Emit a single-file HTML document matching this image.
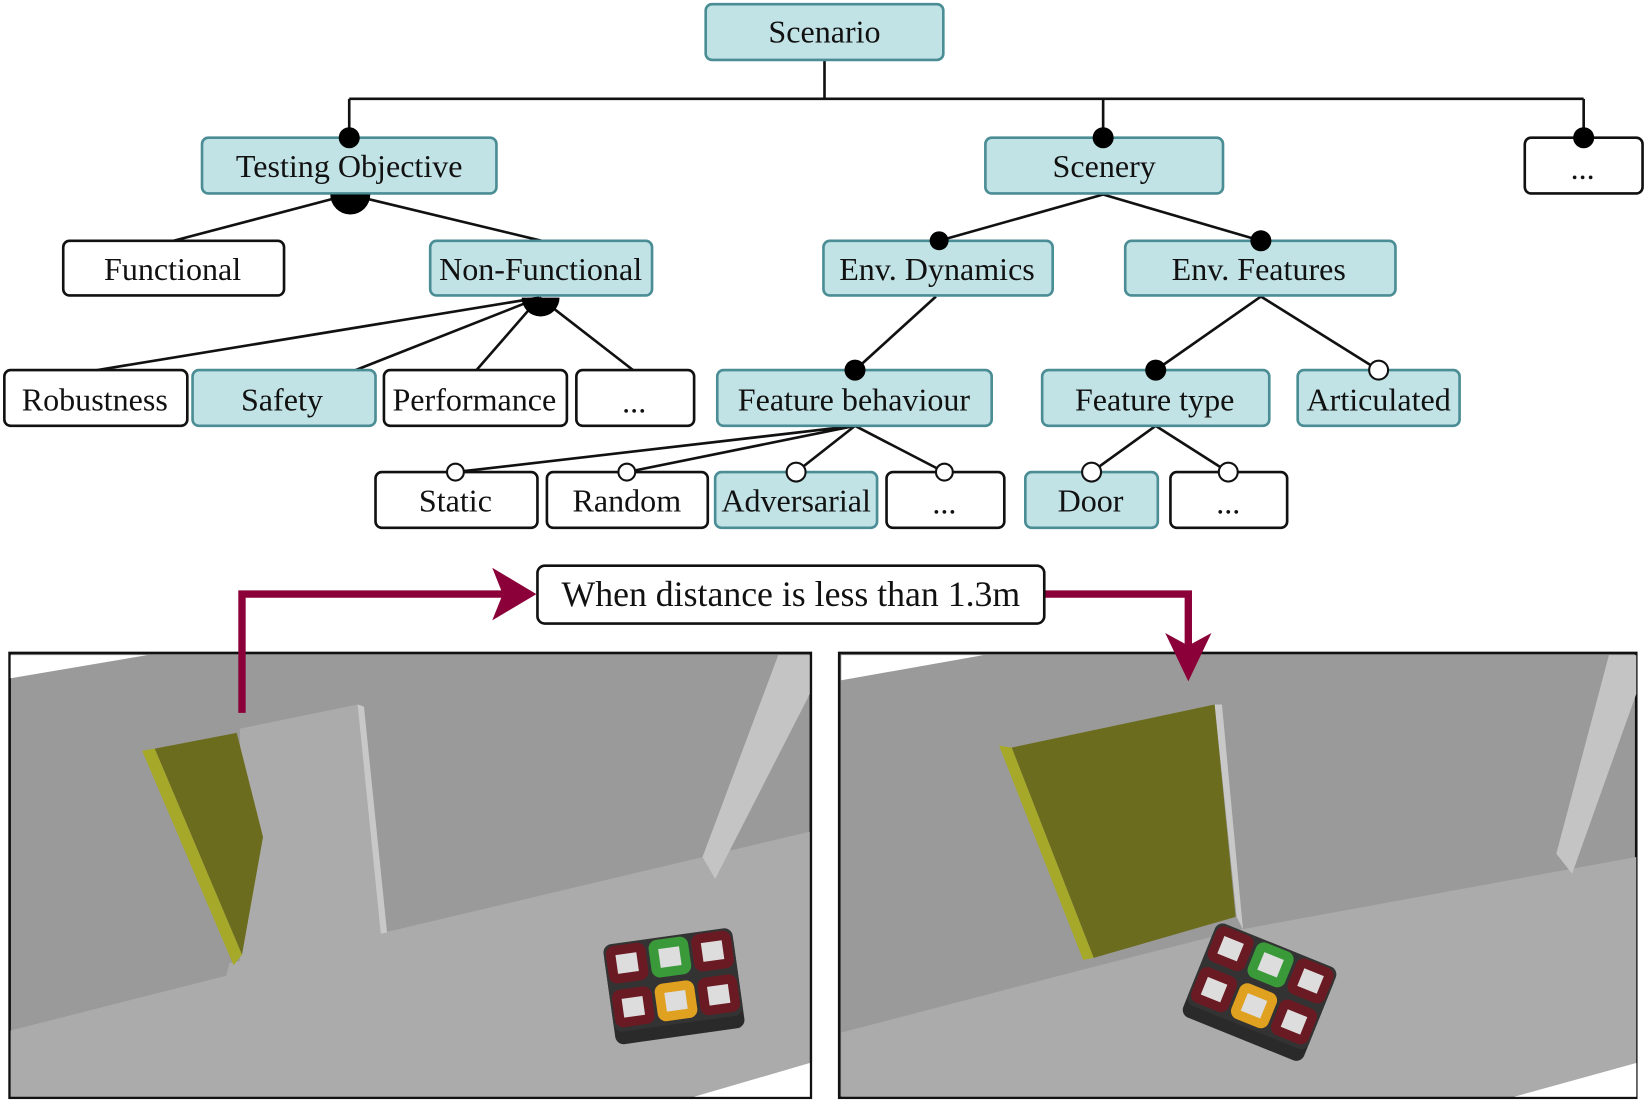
<!DOCTYPE html>
<html><head><meta charset="utf-8"><style>
html,body{margin:0;padding:0;background:#fff;}
svg{display:block;}
text{font-family:"Liberation Serif",serif;font-size:30.5px;fill:#111;text-anchor:middle;dominant-baseline:central;}
.t{fill:#c2e3e6;stroke:#4a8d94;stroke-width:2.5;}
.w{fill:#fff;stroke:#111;stroke-width:2.5;}
.l{stroke:#111;stroke-width:2.5;fill:none;}
.oc{fill:#fff;stroke:#111;stroke-width:2;}
</style></head><body>
<svg width="1649" height="1103" viewBox="0 0 1568 1049" xmlns="http://www.w3.org/2000/svg">
<path class="l" d="M784 57V94M332 94H1506M332 94V131M1049 94V131M1506 94V131"/>
<path class="l" d="M332 185L165 229M332 185L515 229"/>
<path class="l" d="M1049 185L893 229M1049 185L1199 229"/>
<path class="l" d="M513 283L92 352M513 283L338 352M513 283L453 352M513 283L602 352"/>
<path class="l" d="M890 282L813 352M1199 282L1099 352M1199 282L1311 352"/>
<path class="l" d="M813 405L433 449M813 405L596 449M813 405L757 449M813 405L898 449"/>
<path class="l" d="M1099 405L1038 449M1099 405L1168 449"/>
<rect class="t" x="671" y="4" width="226" height="53" rx="6"/><text x="784" y="30">Scenario</text>
<rect class="t" x="192" y="131" width="280" height="53" rx="6"/><text x="332" y="158">Testing Objective</text>
<rect class="t" x="937" y="131" width="226" height="53" rx="6"/><text x="1050" y="158">Scenery</text>
<rect class="w" x="1450" y="131" width="112" height="53" rx="6"/><text x="1505" y="160">...</text>
<rect class="w" x="60" y="229" width="210" height="52" rx="6"/><text x="164" y="256">Functional</text>
<rect class="t" x="409" y="229" width="211" height="52" rx="6"/><text x="514" y="256">Non-Functional</text>
<rect class="t" x="783" y="229" width="218" height="52" rx="6"/><text x="891" y="256">Env. Dynamics</text>
<rect class="t" x="1070" y="229" width="257" height="52" rx="6"/><text x="1197" y="256">Env. Features</text>
<rect class="w" x="4" y="352" width="174" height="53" rx="6"/><text x="90" y="380">Robustness</text>
<rect class="t" x="183" y="352" width="174" height="53" rx="6"/><text x="268" y="380">Safety</text>
<rect class="w" x="365" y="352" width="174" height="53" rx="6"/><text x="451" y="380">Performance</text>
<rect class="w" x="548" y="352" width="112" height="53" rx="6"/><text x="603" y="382">...</text>
<rect class="t" x="682" y="352" width="261" height="53" rx="6"/><text x="812" y="380">Feature behaviour</text>
<rect class="t" x="991" y="352" width="216" height="53" rx="6"/><text x="1098" y="380">Feature type</text>
<rect class="t" x="1234" y="352" width="154" height="53" rx="6"/><text x="1311" y="380">Articulated</text>
<rect class="w" x="357" y="449" width="154" height="53" rx="6"/><text x="433" y="476">Static</text>
<rect class="w" x="520" y="449" width="153" height="53" rx="6"/><text x="596" y="476">Random</text>
<rect class="t" x="680" y="449" width="154" height="53" rx="6"/><text x="757" y="476">Adversarial</text>
<rect class="w" x="843" y="449" width="112" height="53" rx="6"/><text x="898" y="478">...</text>
<rect class="t" x="975" y="449" width="126" height="53" rx="6"/><text x="1037" y="476">Door</text>
<rect class="w" x="1113" y="449" width="111" height="53" rx="6"/><text x="1168" y="478">...</text>
<g fill="#000">
<circle cx="332" cy="131" r="10"/><circle cx="1049" cy="131" r="10"/><circle cx="1506" cy="131" r="10"/>
<circle cx="893" cy="229" r="9"/><circle cx="1199" cy="229" r="10"/>
<circle cx="813" cy="352" r="10"/><circle cx="1099" cy="352" r="10"/>
<path d="M314 185A19 19 0 0 0 352 185Z"/>
<path d="M496 283A18 18 0 0 0 532 283Z"/>
</g>
<circle class="oc" cx="1311" cy="352" r="9"/>
<circle class="oc" cx="433" cy="449" r="8"/><circle class="oc" cx="596" cy="449" r="8"/>
<circle class="oc" cx="757" cy="449" r="9"/><circle class="oc" cx="898" cy="449" r="8"/>
<circle class="oc" cx="1038" cy="449" r="9"/><circle class="oc" cx="1168" cy="449" r="9"/>
<rect x="9" y="621" width="762" height="423" fill="#9a9a9a" stroke="#111" stroke-width="2.5"/>
<polygon points="10,645 140,623 10,623" fill="#fff"/>
<polygon points="10,980 215,928 218,916 365,887 770,791 770,1043 10,1043" fill="#ababab"/>
<polygon points="228,693 340,670 365,887 228,918" fill="#ababab"/>
<polygon points="340,670 346,672 368,887 362,888" fill="#c8c8c8"/>
<polygon points="660,1043 770,1011 770,1043" fill="#fff"/>
<polygon points="740,623 770,623 770,660 680,836 668,815" fill="#c4c4c4"/>
<polygon points="147,712 225,697 250,796 230,908" fill="#6c6c1e"/>
<polygon points="135,714 147,712 230,908 222,918" fill="#a6a82a"/>
<g transform="translate(640,932) rotate(-8)">
<rect x="-62" y="-36" width="124" height="90" rx="8" fill="#2a2a2a"/>
<rect x="-62" y="-42" width="124" height="84" rx="8" fill="#333"/>
<rect x="-60" y="-40" width="38" height="36" rx="8" fill="#6a1a22"/><rect x="-51" y="-31" width="20" height="18" fill="#ddd"/>
<rect x="-19" y="-40" width="38" height="36" rx="8" fill="#3a9a3a"/><rect x="-10" y="-31" width="20" height="18" fill="#ddd"/>
<rect x="22" y="-40" width="38" height="36" rx="8" fill="#6a1a22"/><rect x="31" y="-31" width="20" height="18" fill="#ddd"/>
<rect x="-60" y="2" width="38" height="36" rx="8" fill="#6a1a22"/><rect x="-51" y="11" width="20" height="18" fill="#ddd"/>
<rect x="-19" y="2" width="38" height="36" rx="8" fill="#e0a020"/><rect x="-10" y="11" width="20" height="18" fill="#ddd"/>
<rect x="22" y="2" width="38" height="36" rx="8" fill="#6a1a22"/><rect x="31" y="11" width="20" height="18" fill="#ddd"/>
</g>
<rect x="798" y="621" width="758" height="423" fill="#9a9a9a" stroke="#111" stroke-width="2.5"/>
<polygon points="800,647 935,623 800,623" fill="#fff"/>
<polygon points="800,982 1030,922 1180,884 1556,815 1556,1043 800,1043" fill="#ababab"/>
<polygon points="1440,1043 1556,1011 1556,1043" fill="#fff"/>
<polygon points="1530,623 1556,623 1556,660 1495,831 1480,812" fill="#c4c4c4"/>
<polygon points="1155,670 1162,670 1182,884 1176,872" fill="#c8c8c8"/>
<polygon points="962,711 1155,670 1175,872 1040,911" fill="#6c6c1e"/>
<polygon points="950,709 962,711 1040,911 1030,913" fill="#a6a82a"/>
<g transform="translate(1200,938) rotate(22)">
<rect x="-62" y="-36" width="124" height="90" rx="8" fill="#2a2a2a"/>
<rect x="-62" y="-42" width="124" height="84" rx="8" fill="#333"/>
<rect x="-60" y="-40" width="38" height="36" rx="8" fill="#6a1a22"/><rect x="-51" y="-31" width="20" height="18" fill="#ddd"/>
<rect x="-19" y="-40" width="38" height="36" rx="8" fill="#3a9a3a"/><rect x="-10" y="-31" width="20" height="18" fill="#ddd"/>
<rect x="22" y="-40" width="38" height="36" rx="8" fill="#6a1a22"/><rect x="31" y="-31" width="20" height="18" fill="#ddd"/>
<rect x="-60" y="2" width="38" height="36" rx="8" fill="#6a1a22"/><rect x="-51" y="11" width="20" height="18" fill="#ddd"/>
<rect x="-19" y="2" width="38" height="36" rx="8" fill="#e0a020"/><rect x="-10" y="11" width="20" height="18" fill="#ddd"/>
<rect x="22" y="2" width="38" height="36" rx="8" fill="#6a1a22"/><rect x="31" y="11" width="20" height="18" fill="#ddd"/>
</g>
<path d="M230 678V565H478M993 565H1130V620" fill="none" stroke="#8b0038" stroke-width="7"/>
<polygon points="468,540 510,565 468,590 478,565" fill="#8b0038"/>
<polygon points="1108,602 1130,648 1152,602 1130,614" fill="#8b0038"/>
<rect class="w" x="511" y="538" width="482" height="55" rx="7"/>
<text x="752" y="565" style="font-size:34px">When distance is less than 1.3m</text>
</svg>
</body></html>
